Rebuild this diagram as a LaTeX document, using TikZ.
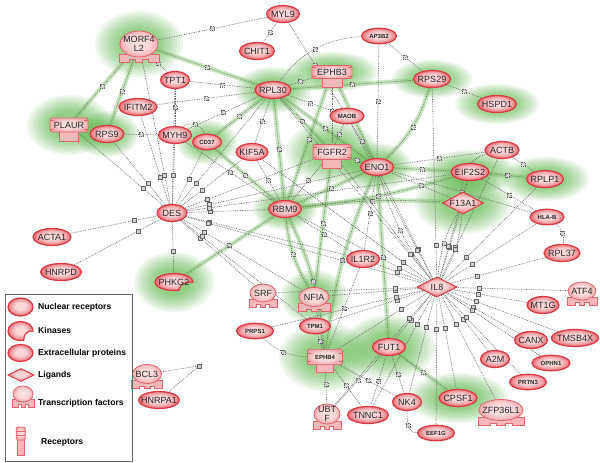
\documentclass[tikz,border=0pt]{standalone}
\usepackage{fontspec}
\setmainfont{Liberation Sans}
\usepackage{tikz}
\usetikzlibrary{shapes.geometric,calc}

\definecolor{nodeline}{RGB}{220,56,66}
\definecolor{nodein}{RGB}{251,216,216}
\definecolor{nodemid}{RGB}{243,170,172}
\definecolor{nodeout}{RGB}{232,96,104}
\definecolor{shapeline}{RGB}{226,100,108}
\definecolor{glowcol}{RGB}{74,174,54}
\definecolor{hlcol}{RGB}{128,198,108}
\definecolor{wirecol}{RGB}{105,105,105}

\pgfdeclareradialshading{geneshade}{\pgfpoint{0bp}{3bp}}{color(0bp)=(nodein); color(10bp)=(nodein); color(18bp)=(nodemid); color(26bp)=(nodeout); color(50bp)=(nodeout)}
\pgfdeclareradialshading{shapeshade}{\pgfpoint{0bp}{3bp}}{color(0bp)=(nodein!70!white); color(14bp)=(nodein); color(26bp)=(nodemid); color(50bp)=(nodemid)}

\pgfdeclarelayer{glow}
\pgfdeclarelayer{wires}
\pgfsetlayers{glow,wires,main}

\newcommand{\genefont}{\fontsize{9}{9.6}\selectfont}
\newcommand{\tinyfont}{\fontsize{6}{7}\selectfont\bfseries}
\newcommand{\legfont}{\fontsize{8.6}{10}\selectfont\bfseries}

% transcription factor: dome on a notched foot
\newcommand{\tfgene}[7][]{%
  \path[foot] (#3-#5-1,#4+#6-3) -- (#3-#5-1,#4+#6+5) -- (#3-0.5*#5,#4+#6+5)
    -- (#3-0.5*#5,#4+#6+2.5) -- (#3-0.2*#5,#4+#6+2.5) -- (#3-0.2*#5,#4+#6+5)
    -- (#3+0.2*#5,#4+#6+5) -- (#3+0.2*#5,#4+#6+2.5) -- (#3+0.5*#5,#4+#6+2.5)
    -- (#3+0.5*#5,#4+#6+5) -- (#3+#5+1,#4+#6+5) -- (#3+#5+1,#4+#6-3) -- cycle;
  \node[dome, minimum width=2*#5pt, minimum height=2*#6pt, #1] (#2) at (#3,#4) {#7};
}
% receptor: ridged plate on a stem
\newcommand{\recgene}[7][]{%
  \path[foot] (#3-0.5*#5,#4+#6-1) rectangle (#3+0.5*#5,#4+#6+9);
  \node[plate, minimum width=2*#5pt, minimum height=2*#6pt, #1] (#2) at (#3,#4) {#7};
  \foreach \k in {-0.33,0.33}{
    \draw[ridge] ([yshift=\k*#6*2pt]#2.west) -- ++(4pt,0);
    \draw[ridge] ([yshift=\k*#6*2pt]#2.east) -- ++(-4pt,0);
  }
}

% highlighted (green) links: from/to/bend
\newcommand{\hllinks}{MORF4L2/PLAUR/0, MORF4L2/RPS9/0, MORF4L2/RPL30/0, RPL30/RBM9/0,
  RPL30/FGFR2/0, RPL30/ENO1/0, RPL30/RPS29/0, CD37/RPL30/0, CD37/RBM9/0, EPHB3/ENO1/0,
  EPHB3/RBM9/0, RPS29/ENO1/15, RBM9/ENO1/0, RBM9/EIF2S2/-5, RBM9/F13A1/5, RBM9/NFIA/-12,
  RBM9/EPHB4/10, RBM9/PHKG2/0, ENO1/EIF2S2/0, ENO1/FUT1/0, ENO1/EPHB4/-8,
  EIF2S2/RPLP1/0, FUT1/CPSF1/0, FGFR2/NFIA/0}
% plain dotted links: from/to/bend
\newcommand{\plainlinks}{MORF4L2/MYL9/0, MORF4L2/TPT1/0, TPT1/RPL30/0, TPT1/MYH9/0,
  IFITM2/RPL30/0, MYH9/RPL30/0, MYH9/CD37/60, RPS9/MYH9/0, MYH9/RBM9/0, KIF5A/RPL30/0,
  KIF5A/RBM9/0, RPL30/EPHB3/0, RPL30/MAOB/0, RPL30/AP3B2/25, MYL9/CHIT1/0, MYL9/MAOB/0,
  AP3B2/ENO1/0, AP3B2/RPS29/0, MAOB/ENO1/0, MAOB/FGFR2/0, FGFR2/ENO1/0, FGFR2/RBM9/0,
  EPHB3/FGFR2/0, ENO1/ACTB/0, ENO1/F13A1/0, ENO1/HLAB/0, ENO1/IL1R2/0, RPS29/HSPD1/0,
  ACTB/RPLP1/0, ACTB/F13A1/-40, EIF2S2/HLAB/0, HLAB/RPL37/30, PRPS1/EPHB4/-20,
  TPM1/EPHB4/0, NFIA/EPHB4/0, IL1R2/EPHB4/0, EPHB4/UBTF/0, EPHB4/TNNC1/0, EPHB4/NK4/0,
  FUT1/UBTF/0, FUT1/TNNC1/0, FUT1/NK4/0, IL1R2/RBM9/0, IL8/F13A1/12, IL8/F13A1/-12,
  IL8/ENO1/10}

\begin{document}
\begin{tikzpicture}[x=1pt, y=-1pt,
    gene/.style={ellipse, draw=nodeline, line width=1.2pt, shade, shading=geneshade,
      minimum width=#1, minimum height=17pt, inner sep=-8pt, font=\genefont, text=black!85},
    gene/.default=34pt,
    tinylabel/.style={font=\tinyfont, minimum height=15.5pt},
    dome/.style={ellipse, draw=shapeline, line width=0.8pt, shade, shading=shapeshade,
      inner sep=-8pt, align=center, font=\genefont, text=black!85},
    foot/.style={draw=shapeline, line width=0.7pt, fill=nodemid!70!nodein},
    plate/.style={rectangle, rounded corners=1.5pt, draw=shapeline, line width=0.8pt,
      shade, shading=shapeshade, inner sep=-8pt, font=\genefont, text=black!85},
    ridge/.style={shapeline, line width=0.5pt},
    lig/.style={diamond, aspect=2, draw=nodeline, line width=0.9pt, shade,
      shading=geneshade, inner sep=-3pt, font=\genefont, text=black!85},
    kin/.style={draw=nodeline, line width=1.2pt, shade, shading=geneshade},
    link/.style={draw=wirecol, densely dotted, line width=0.7pt},
    band/.style={draw=hlcol, line width=4.5pt, opacity=0.42, line cap=round},
    mk/.style={rectangle, draw=black!60, fill=black!18, line width=0.5pt,
      minimum size=4pt, inner sep=0pt},
    glow/.style={fill=glowcol, opacity=0.09},
    legtext/.style={anchor=west, font=\legfont, inner sep=0pt},
  ]
  \useasboundingbox (0,0) rectangle (600,463);

  % genes
  \tfgene{MORF4L2}{139}{44}{19}{13}{MORF4\\L2}
  \node[gene=33pt] (MYL9) at (283,14) {MYL9};
  \node[gene=35pt] (CHIT1) at (257,51) {CHIT1};
  \node[gene=35pt, tinylabel] (AP3B2) at (379,36) {AP3B2};
  \node[gene=29pt] (TPT1) at (175,80) {TPT1};
  \node[gene=36pt] (RPL30) at (273,90) {RPL30};
  \recgene{EPHB3}{332}{72}{20}{6.5}{EPHB3}
  \node[gene=37pt] (RPS29) at (432,79) {RPS29};
  \node[gene=39pt] (HSPD1) at (497,104) {HSPD1};
  \node[gene=38pt] (IFITM2) at (138,107) {IFITM2};
  \recgene{PLAUR}{69}{125}{19}{7}{PLAUR}
  \node[gene=34pt] (RPS9) at (107,134) {RPS9};
  \node[gene=33pt] (MYH9) at (175,135) {MYH9};
  \node[gene=29pt, tinylabel] (CD37) at (207,142) {CD37};
  \node[gene=32pt] (KIF5A) at (252,152) {KIF5A};
  \node[gene=34pt, tinylabel] (MAOB) at (347,116) {MAOB};
  \recgene{FGFR2}{332}{152}{19}{7.5}{FGFR2}
  \node[gene=33pt] (ENO1) at (377,167) {ENO1};
  \node[gene=34pt] (ACTB) at (502,150) {ACTB};
  \node[gene=38pt] (EIF2S2) at (470,172) {EIF2S2};
  \node[gene=37pt] (RPLP1) at (545,179) {RPLP1};
  \node[lig, minimum width=41pt, minimum height=22pt] (F13A1) at (463,203) {F13A1};
  \node[gene=34pt, tinylabel] (HLAB) at (547,217) {HLA-B};
  \node[gene=30pt] (DES) at (172,213) {DES};
  \node[gene=33pt] (RBM9) at (285,209) {RBM9};
  \node[gene=38pt] (ACTA1) at (52,237) {ACTA1};
  \node[gene=41pt] (HNRPD) at (61,272) {HNRPD};
  \node[gene=36pt] (RPL37) at (562,253) {RPL37};
  \node[gene=33pt] (IL1R2) at (363,259) {IL1R2};
  \node[lig, minimum width=40pt, minimum height=20pt] (IL8) at (437,287) {IL8};
  \path[kin] (193,282) arc[start angle=0, end angle=285, x radius=19pt, y radius=8.5pt]
    .. controls (180,284) and (185,282) .. (193,282) -- cycle;
  \node[ellipse, minimum width=38pt, minimum height=17pt, inner sep=-8pt, font=\genefont,
    text=black!85] (PHKG2) at (174,282) {PHKG2};
  \tfgene{SRF}{263}{293}{13}{9}{SRF}
  \tfgene{NFIA}{314}{297}{15}{9.5}{NFIA}
  \tfgene{ATF4}{582}{291}{14}{9}{ATF4}
  \node[gene=37pt, tinylabel] (PRPS1) at (255,331) {PRPS1};
  \node[gene=31pt, tinylabel] (TPM1) at (315,326) {TPM1};
  \node[gene=32pt] (MT1G) at (543,305) {MT1G};
  \node[gene=47pt] (TMSB4X) at (575,338) {TMSB4X};
  \node[gene=33pt] (CANX) at (531,340) {CANX};
  \node[gene=33pt] (FUT1) at (389,347) {FUT1};
  \recgene[tinylabel]{EPHB4}{325}{357}{17.5}{6}{EPHB4}
  \node[gene=29pt] (A2M) at (495,359) {A2M};
  \node[gene=38pt, tinylabel] (OPHN1) at (551,363) {OPHN1};
  \node[gene=37pt, tinylabel] (PRTN3) at (528,382) {PRTN3};
  \tfgene{BCL3}{147}{374}{14.5}{9.5}{BCL3}
  \node[gene=41pt] (HNRPA1) at (159,400) {HNRPA1};
  \node[gene=29pt] (NK4) at (407,402) {NK4};
  \node[gene=38pt] (CPSF1) at (458,398) {CPSF1};
  \node[gene=41pt] (TNNC1) at (368,415) {TNNC1};
  \tfgene{UBTF}{327}{414}{13}{10}{UBT\\F}
  \tfgene{ZFP36L1}{501}{410}{22}{10.5}{ZFP36L1}
  \node[gene=37pt, tinylabel] (EEF1G) at (436,433) {EEF1G};
  \coordinate (bcljoin) at (199,366);

  % legend
  \draw[black!60, line width=0.6pt] (5,294) rectangle (132,461);
  \node[gene=25pt, minimum height=18pt] (legNR) at (20.5,307) {};
  \path[kin] (33,331) arc[start angle=0, end angle=285, x radius=12.5pt, y radius=9.5pt]
    .. controls (24,333) and (28,330.5) .. (33,331) -- cycle;
  \node[gene=25pt, minimum height=17pt] (legEP) at (20.5,353) {};
  \node[lig, minimum width=26pt, minimum height=13pt] (legLig) at (21,375) {};
  \tfgene{legTF}{23}{394}{10}{8}{}
  \path[foot] (17.5,439) rectangle (24,455);
  \node[plate, minimum width=9pt, minimum height=13pt] (legRec) at (20.7,433.5) {};
  \draw[ridge] ([yshift=2.2pt]legRec.west) -- ([yshift=2.2pt]legRec.east);
  \draw[ridge] ([yshift=-2.2pt]legRec.west) -- ([yshift=-2.2pt]legRec.east);
  \node[legtext] (legNRt) at (38,307) {Nuclear receptors};
  \node[legtext] (legKt) at (38,330) {Kinases};
  \node[legtext] (legEPt) at (38,353) {Extracellular proteins};
  \node[legtext] (legLt) at (38,375) {Ligands};
  \node[legtext] (legTFt) at (38,403) {Transcription factors};
  \node[legtext] (legRt) at (41,442) {Receptors};

  % green halos, built up from stacked faint ellipses
  \begin{pgfonlayer}{glow}
    \fill[white] (0,0) rectangle (600,463);
    \foreach \n/\rx/\ry in {MORF4L2/44/33, PLAUR/42/30, RPS9/32/23, RPL30/38/23, EPHB3/46/20,
        RPS29/40/19, HSPD1/42/20, CD37/30/22, FGFR2/46/31, ENO1/35/24, RBM9/32/21,
        EIF2S2/46/22, RPLP1/44/22, F13A1/48/31, PHKG2/40/30, NFIA/33/27, EPHB4/46/34,
        FUT1/46/32, CPSF1/50/25}
      \foreach \s in {1.00,0.93,0.86,0.79,0.72,0.65,0.58,0.51,0.44}
        \fill[glow] (\n) ellipse [x radius=\s*\rx pt, y radius=\s*\ry pt];
  \end{pgfonlayer}

  % connectors
  \begin{pgfonlayer}{wires}
    \foreach \a/\b/\c in \hllinks
      \draw[band] (\a) to[bend left=\c] (\b);
    \foreach \a/\b/\c in \hllinks
      \draw[link] (\a) to[bend left=\c] node[mk] (m\a\b) {} (\b);
    \foreach \a/\b/\c in \plainlinks
      \draw[link] (\a) to[bend left=\c] node[mk] (m\a\b) {} (\b);
    \foreach \b in {PLAUR, RPS9, MORF4L2, IFITM2, MYH9, TPT1, CD37, RPL30, KIF5A, ACTA1,
        HNRPD, PHKG2, SRF, NFIA, TPM1, IL1R2, IL8, RBM9, FGFR2, ENO1, EIF2S2}{
      \draw[link] (DES) -- (\b);
      \node[mk] (mDES\b) at ($(DES)!38pt!(\b)$) {};
    }
    \foreach \b in {ENO1, F13A1, EIF2S2, ACTB, RPLP1, HLAB, RPL37, ATF4, MT1G, TMSB4X,
        CANX, OPHN1, A2M, PRTN3, ZFP36L1, CPSF1, EEF1G, NK4, FUT1, TNNC1, UBTF, EPHB4,
        TPM1, NFIA, SRF, IL1R2, RBM9, PRPS1, FGFR2, RPS29, MAOB, KIF5A, RPL30}{
      \draw[link] (IL8) -- (\b);
      \node[mk] (mIL8\b) at ($(IL8)!42pt!(\b)$) {};
    }
    \draw[link] (BCL3) -- (bcljoin) -- (HNRPA1);
    \node[mk] (mBCL3) at (bcljoin) {};
    \draw[link] (NK4.south) to[out=-90, in=180] node[mk] (mNK4EEF1G) {} (EEF1G.west);
  \end{pgfonlayer}
\end{tikzpicture}
\end{document}
